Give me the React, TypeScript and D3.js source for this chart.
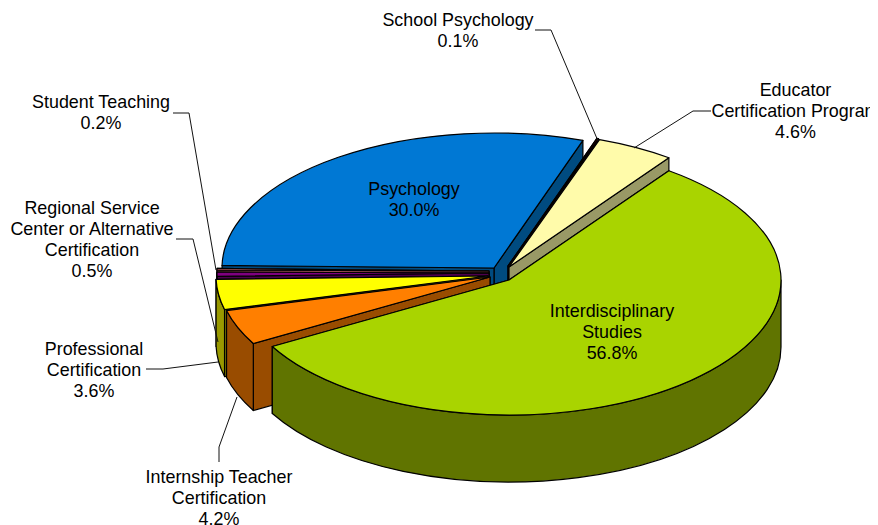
import React from 'react';
import * as d3 from 'd3';

const categories = ['Interdisciplinary Studies','Internship Teacher Certification','Professional Certification','Regional Service Center or Alternative Certification','Student Teaching','Psychology','School Psychology','Educator Certification Program'];
const values = [56.8,4.2,3.6,0.5,0.2,30.0,0.1,4.6];
const topColors = ['#A9D400','#FF7F00','#FFFF00','#800080','#FF8080','#0078D4','#800000','#FFFBAA'];
const wallColors = ['#607400','#994C00','#999900','#4C004C','#994C4C','#004B80','#4C0000','#999966'];
const labelLines = [
  ['Interdisciplinary','Studies','56.8%'],
  ['Internship Teacher','Certification','4.2%'],
  ['Professional','Certification','3.6%'],
  ['Regional Service','Center or Alternative','Certification','0.5%'],
  ['Student Teaching','0.2%'],
  ['Psychology','30.0%'],
  ['School Psychology','0.1%'],
  ['Educator','Certification Program','4.6%'],
];
const centers: [number,number][] = [[509,280],[490,277],[488,276],[489,273],[489,271],[494,268],[508,266],[509,267]];
const labelPos: [number,number][] = [[612,317],[219,482.5],[94,355],[92,214],[101,108],[414,195],[458,26],[795.5,96]];
const leaders: [number,number][][] = [
  [],
  [[219,462],[219,447],[237,397]],
  [[146,369],[163,369],[218,362]],
  [[176,239],[193,239],[218,342]],
  [[173,113],[189,113],[216,270]],
  [],
  [[535,30],[551,30],[598,141]],
  [[711,111],[693,111],[634,148]],
];
const RX = 272, RY = 135, DEPTH = 67;
const deg = Math.PI/180;
const START = 36;
const drawOrder = [5,6,7,4,3,2,1,0];

const pie = d3.pie<number>().sort(null).startAngle(START*deg).endAngle((START+360)*deg);
const arcs = pie(values);
const line = d3.line();

function pt(i:number,a:number,dy=0):[number,number]{
  const [cx,cy]=centers[i];
  return [cx+RX*Math.sin(a), cy-RY*Math.cos(a)+dy];
}
function topPath(i:number,a0:number,a1:number){
  const [cx,cy]=centers[i];
  const p0=pt(i,a0),p1=pt(i,a1);
  return `M${cx},${cy}L${p0}A${RX},${RY} 0 ${a1-a0>Math.PI?1:0} 1 ${p1}Z`;
}
function radialWall(i:number,a:number){
  const [cx,cy]=centers[i];
  const p=pt(i,a);
  return line([[cx,cy],p,[p[0],p[1]+DEPTH],[cx,cy+DEPTH]])+'Z';
}
function outerWall(i:number,a0:number,a1:number){
  const lo=Math.max(a0,90*deg), hi=Math.min(a1,270*deg);
  if(hi<=lo) return null;
  const p0=pt(i,lo),p1=pt(i,hi),q1=pt(i,hi,DEPTH),q0=pt(i,lo,DEPTH);
  const big=hi-lo>Math.PI?1:0;
  return `M${p0}A${RX},${RY} 0 ${big} 1 ${p1}L${q1}A${RX},${RY} 0 ${big} 0 ${q0}Z`;
}

export default function App(){
  const font="'Liberation Sans', Arial, sans-serif";
  return (
    <svg width={864} height={517} viewBox="8 8 864 517" style={{display:'block'}}>
      <rect x={8} y={8} width={864} height={517} fill="#fff"/>
      {drawOrder.map(i=>{
        const a=arcs[i]; const o=outerWall(i,a.startAngle,a.endAngle);
        const common={stroke:'#000',strokeWidth:1.2,strokeLinejoin:'round' as const};
        const walls=[a.startAngle,a.endAngle].sort((x,y)=>Math.cos(y)-Math.cos(x));
        return <g key={categories[i]}>
          {walls.map((w,k)=><path key={k} d={radialWall(i,w)} fill={wallColors[i]} {...common}/>)}
          {o&&<path d={o} fill={wallColors[i]} {...common}/>}
          <path d={topPath(i,a.startAngle,a.endAngle)} fill={topColors[i]} {...common}/>
        </g>;
      })}
      {leaders.map((l,i)=>l.length?<path key={i} d={line(l)!} fill="none" stroke="#111" strokeWidth={1}/>:null)}
      {labelLines.map((ls,i)=>(
        <text key={i} x={labelPos[i][0]} y={labelPos[i][1]} textAnchor="middle" fontFamily={font} fontSize={17.9} fill="#000">
          {ls.map((s,j)=><tspan key={j} x={labelPos[i][0]} y={labelPos[i][1]+j*21}>{s}</tspan>)}
        </text>
      ))}
    </svg>
  );
}
